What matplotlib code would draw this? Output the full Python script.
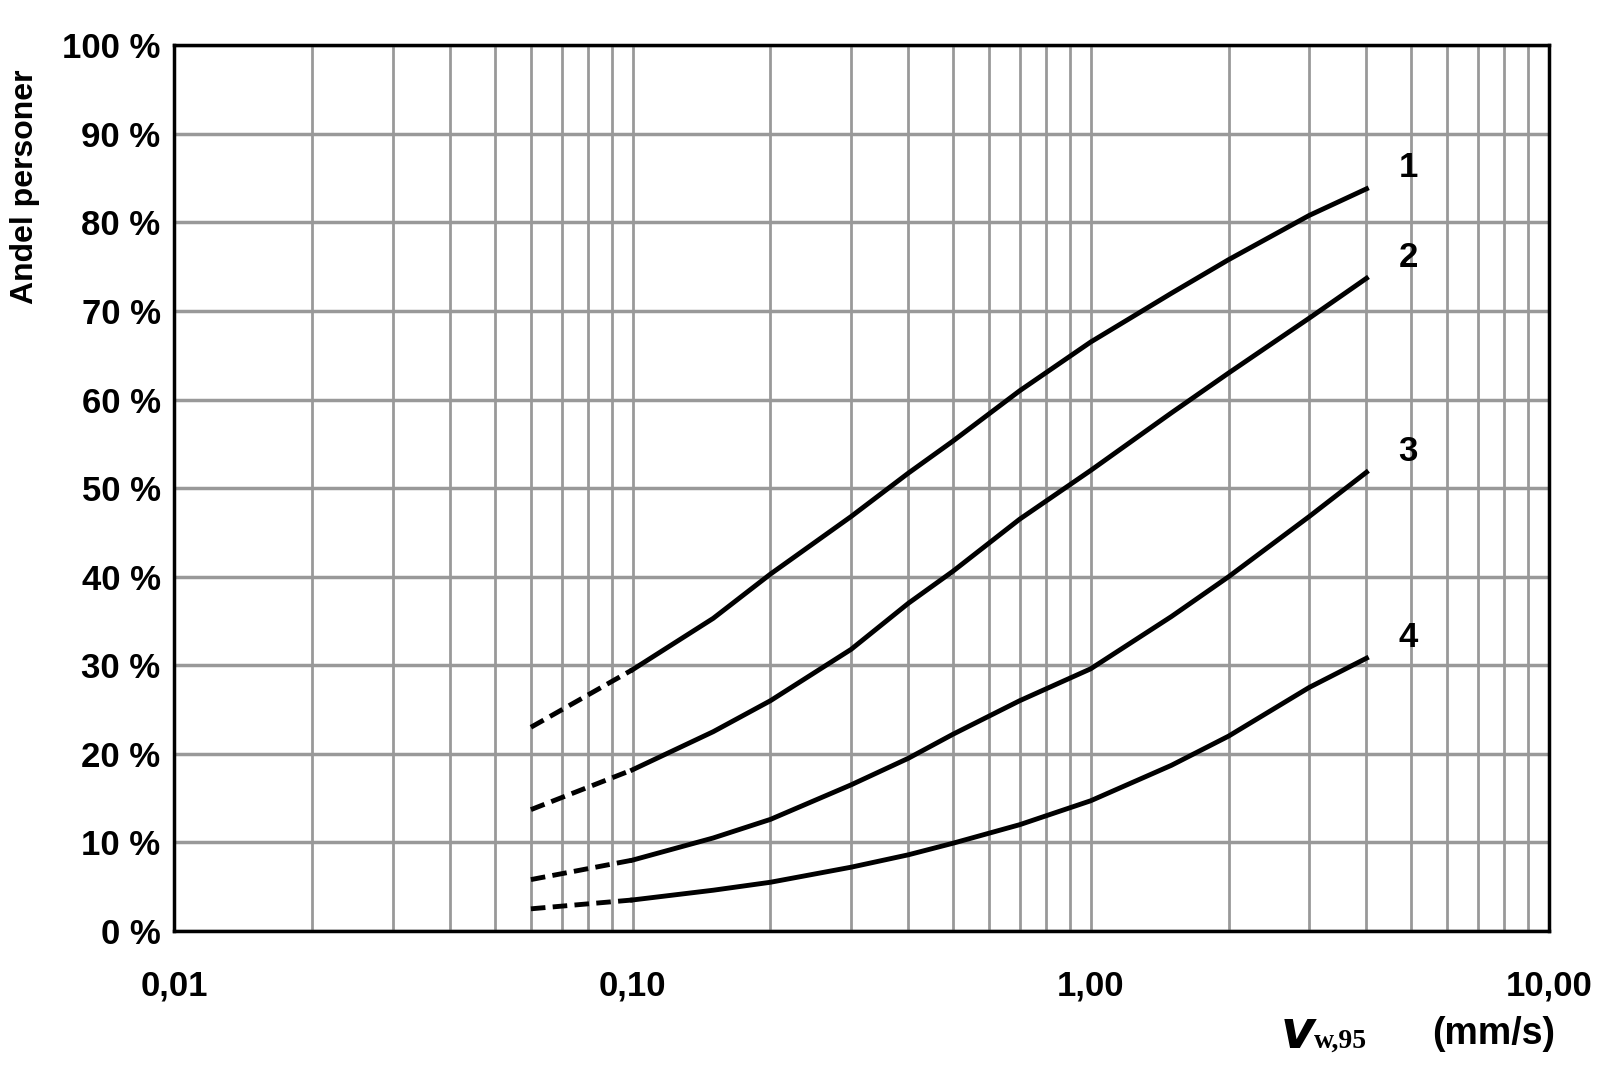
import numpy as np
import matplotlib
matplotlib.use("Agg")
import matplotlib.pyplot as plt
from matplotlib.ticker import FixedLocator, LogLocator, NullFormatter

plt.rcParams["font.family"] = ["Liberation Sans", "DejaVu Sans"]
plt.rcParams["font.weight"] = "bold"

# solid part of each curve
x_solid = [0.1, 0.15, 0.2, 0.3, 0.4, 0.5, 0.7, 1.0, 1.5, 2.0, 3.0, 4.0]
curve1 = [29.5, 35.3, 40.3, 46.8, 51.7, 55.3, 61.0, 66.5, 72.0, 75.8, 80.8, 83.8]
curve2 = [18.2, 22.5, 26.0, 31.8, 37.0, 40.6, 46.5, 52.0, 58.5, 63.0, 69.2, 73.7]
curve3 = [8.0, 10.5, 12.6, 16.5, 19.5, 22.2, 26.0, 29.6, 35.5, 40.0, 46.8, 51.8]
curve4 = [3.5, 4.6, 5.5, 7.2, 8.6, 9.9, 12.0, 14.7, 18.7, 22.0, 27.5, 30.8]
# dashed extrapolation 0.06 -> 0.10
x_dash = [0.06, 0.1]
dash1 = [23.0, 29.5]
dash2 = [13.7, 18.2]
dash3 = [5.8, 8.0]
dash4 = [2.5, 3.5]
labels = ["1", "2", "3", "4"]

fig = plt.figure(figsize=(16, 10.8), dpi=100)
ax = fig.add_axes([0.109, 0.138, 0.859, 0.82])
ax.set_xscale("log")
ax.set_xlim(0.01, 10)
ax.set_ylim(0, 100)

ax.xaxis.set_major_locator(FixedLocator([0.01, 0.1, 1, 10]))
ax.xaxis.set_minor_locator(LogLocator(base=10, subs=np.arange(2, 10)))
ax.xaxis.set_minor_formatter(NullFormatter())
ax.set_xticks([0.01, 0.1, 1, 10])
ax.set_xticklabels(["0,01", "0,10", "1,00", "10,00"])
ax.set_yticks(np.arange(0, 101, 10))
ax.set_yticklabels([f"{v} %" for v in range(0, 101, 10)])
ax.grid(True, which="both", axis="x", color="#999999", lw=2)
ax.grid(True, which="major", axis="y", color="#999999", lw=2.5)
ax.set_axisbelow(True)
ax.tick_params(axis="both", which="both", length=0, labelsize=25, pad=10)
ax.tick_params(axis="x", pad=28)
for s in ax.spines.values():
    s.set_linewidth(2.5)

for ys, yd, lab in zip([curve1, curve2, curve3, curve4],
                       [dash1, dash2, dash3, dash4], labels):
    ax.plot(x_solid, ys, color="black", lw=3.5, solid_joinstyle="round")
    ax.plot(x_dash, yd, color="black", lw=3.5, ls=(0, (3, 1.5)))
    ax.text(4.7, ys[-1] + 0.5, lab, fontsize=25, fontweight="bold", va="bottom")

ax.set_ylabel("Andel personer", fontsize=23, fontweight="bold")
ax.yaxis.set_label_coords(-0.098, 0.84)
fig.text(0.80, 0.03, r"$v$", fontsize=38, family="DejaVu Serif", style="italic")
fig.text(0.821, 0.03, "w,95", fontsize=20, family="Liberation Serif", fontweight="bold")
fig.text(0.895, 0.033, "(mm/s)", fontsize=27, fontweight="bold")

fig.savefig("out.png", dpi=100)
